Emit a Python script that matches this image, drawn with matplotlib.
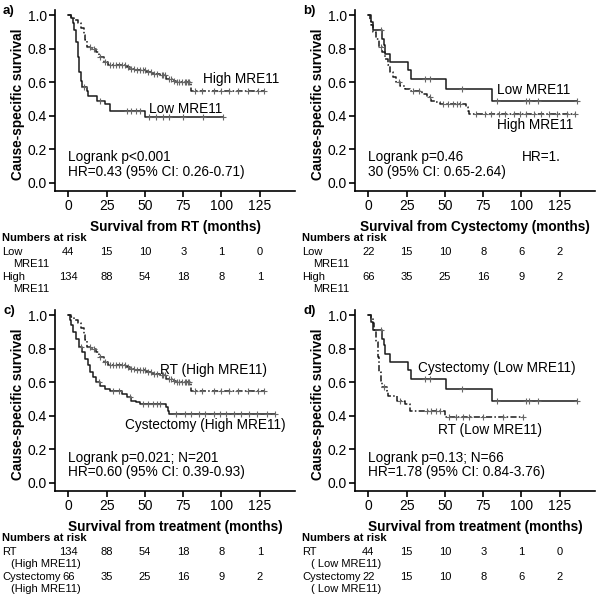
import numpy as np
import matplotlib
matplotlib.use("Agg")
import matplotlib.pyplot as plt
from matplotlib.transforms import blended_transform_factory

plt.rcParams['font.family'] = ['Liberation Sans', 'DejaVu Sans']

# ---- Kaplan-Meier step data ----
rt_high_t = [0, 2, 4, 6, 8, 10, 11, 12, 15, 18, 20, 23, 26, 38, 40, 44, 51, 55, 60, 64, 68, 70, 80, 128]
rt_high_s = [1.0, 0.99, 0.97, 0.95, 0.92, 0.88, 0.85, 0.81, 0.80, 0.78, 0.75, 0.72, 0.70, 0.69, 0.68, 0.67,
             0.66, 0.65, 0.64, 0.62, 0.61, 0.60, 0.55, 0.55]
rt_high_c = [14, 17, 21, 24, 27, 29, 31, 33, 35, 37, 39, 41, 43, 45, 47, 49, 50, 52, 54, 56, 58, 61, 62,
             63, 66, 67, 69, 71, 72, 74, 76, 77, 78, 79, 83, 87, 95, 100, 105, 111, 117, 124, 128]

rt_low_t = [0, 2, 3, 4, 5, 6, 7, 8, 9, 12, 13, 19, 24, 27, 50, 101]
rt_low_s = [1.0, 0.98, 0.95, 0.91, 0.84, 0.75, 0.66, 0.61, 0.57, 0.55, 0.52, 0.49, 0.47, 0.43, 0.39, 0.39]
rt_low_c = [10, 21, 38, 41, 44, 47, 53, 57, 62, 66, 75, 88, 101]

cys_low_t = [0, 2, 3, 9, 10, 11, 14, 26, 28, 51, 81, 136]
cys_low_s = [1.0, 0.96, 0.91, 0.86, 0.82, 0.77, 0.72, 0.67, 0.62, 0.56, 0.49, 0.49]
cys_low_c = [8, 37, 40, 61, 84, 103, 105, 111, 136]

cys_high_t = [0, 1, 2, 3, 5, 7, 9, 11, 13, 14, 16, 18, 21, 24, 27, 35, 38, 41, 44, 47, 64, 65, 66, 135]
cys_high_s = [1.0, 0.97, 0.94, 0.90, 0.86, 0.81, 0.78, 0.74, 0.70, 0.66, 0.63, 0.60, 0.58, 0.56, 0.55,
              0.53, 0.51, 0.49, 0.48, 0.47, 0.45, 0.43, 0.41, 0.41]
cys_high_c = [8, 20, 29, 33, 40, 49, 52, 55, 58, 60, 70, 76, 80, 85, 89, 95, 99, 103, 108, 113, 118, 123, 130, 135]

# ---- numbers at risk ----
risk_times = [0, 25, 50, 75, 100, 125]
risk_rt_high = [134, 88, 54, 18, 8, 1]
risk_rt_low = [44, 15, 10, 3, 1, 0]
risk_cys_high = [66, 35, 25, 16, 9, 2]
risk_cys_low = [22, 15, 10, 8, 6, 2]

xticks = [0, 25, 50, 75, 100, 125]
yticks = [0.0, 0.2, 0.4, 0.6, 0.8, 1.0]

CURVES = {
    'rt_high': (rt_high_t, rt_high_s, rt_high_c),
    'rt_low': (rt_low_t, rt_low_s, rt_low_c),
    'cys_low': (cys_low_t, cys_low_s, cys_low_c),
    'cys_high': (cys_high_t, cys_high_s, cys_high_c),
}

SOLID = '-'
DASHDOT = (0, (4, 1.5, 1, 1.5))
FS_TXT = 9.8
FS_TICK = 10
FS_LAB = 9.8
FS_RISK = 8

fig = plt.figure(figsize=(6, 6), dpi=100)
W, H = 600.0, 600.0


def axes_at(left_px, axis_px):
    return fig.add_axes([left_px / W, 1 - axis_px / H, 240 / W, 181 / H])


def draw_curve(ax, key, ls):
    t, s, c = CURVES[key]
    ax.step(t, s, where='post', color='#1a1a1a', lw=1.1, linestyle=ls)
    t_arr = np.array(t)
    s_arr = np.array(s)
    idx = np.searchsorted(t_arr, np.array(c), side='right') - 1
    ax.plot(c, s_arr[idx], linestyle='none', marker='+', ms=5, mew=0.8, color='#666666')


def setup(ax, xlabel):
    ax.set_xlim(-8.7, 148)
    ax.set_ylim(-0.048, 1.03)
    ax.set_xticks(xticks)
    ax.set_yticks(yticks)
    ax.set_yticklabels([f'{v:.1f}' for v in yticks])
    ax.spines['top'].set_visible(False)
    ax.spines['right'].set_visible(False)
    ax.spines['left'].set_linewidth(1.2)
    ax.spines['bottom'].set_linewidth(1.2)
    ax.tick_params(direction='out', length=4, width=1.2, labelsize=FS_TICK, pad=2)
    ax.set_ylabel('Cause-specific survival', fontsize=FS_LAB, fontweight='bold')
    ax.yaxis.set_label_coords(-0.125, 0.48)
    ax.set_xlabel(xlabel, fontsize=FS_LAB, fontweight='bold', labelpad=5)


def risk_table(ax, top_px, rows):
    tr = blended_transform_factory(ax.transData, fig.transFigure)
    x0 = ax.get_position().x0 - 53 / W
    fig.text(x0, 1 - top_px / H, 'Numbers at risk', fontsize=FS_RISK, fontweight='bold',
             va='center', ha='left')
    for i, (l1, l2, vals) in enumerate(rows):
        y1 = 1 - (top_px + 14 + 25 * i) / H
        y2 = 1 - (top_px + 26 + 25 * i) / H
        fig.text(x0, y1, l1, fontsize=FS_RISK, va='center', ha='left')
        fig.text(x0 + l2[1] / W, y2, l2[0], fontsize=FS_RISK, va='center', ha='left')
        for tx, v in zip(risk_times, vals):
            fig.text(tx, y1, str(v), fontsize=FS_RISK, va='center', ha='center', transform=tr)


# Panel a
axa = axes_at(55, 191)
draw_curve(axa, 'rt_high', DASHDOT)
draw_curve(axa, 'rt_low', SOLID)
setup(axa, 'Survival from RT (months)')
axa.text(88, 0.617, 'High MRE11', fontsize=FS_TXT, va='center')
axa.text(53, 0.439, 'Low MRE11', fontsize=FS_TXT, va='center')
axa.text(0, 0.155, 'Logrank p<0.001', fontsize=FS_TXT, va='center')
axa.text(0, 0.065, 'HR=0.43 (95% CI: 0.26-0.71)', fontsize=FS_TXT, va='center')
risk_table(axa, 238, [('Low', ('MRE11', 11), risk_rt_low), ('High', ('MRE11', 11), risk_rt_high)])

# Panel b
axb = axes_at(355, 191)
draw_curve(axb, 'cys_low', SOLID)
draw_curve(axb, 'cys_high', DASHDOT)
setup(axb, 'Survival from Cystectomy (months)')
axb.text(84, 0.552, 'Low MRE11', fontsize=FS_TXT, va='center')
axb.text(84, 0.343, 'High MRE11', fontsize=FS_TXT, va='center')
axb.text(0, 0.155, 'Logrank p=0.46', fontsize=FS_TXT, va='center')
axb.text(100.4, 0.155, 'HR=1.', fontsize=FS_TXT, va='center')
axb.text(0, 0.065, '30 (95% CI: 0.65-2.64)', fontsize=FS_TXT, va='center')
risk_table(axb, 238, [('Low', ('MRE11', 11), risk_cys_low), ('High', ('MRE11', 11), risk_cys_high)])

# Panel c
axc = axes_at(55, 491)
draw_curve(axc, 'rt_high', DASHDOT)
draw_curve(axc, 'cys_high', SOLID)
setup(axc, 'Survival from treatment (months)')
axc.text(59.6, 0.675, 'RT (High MRE11)', fontsize=FS_TXT, va='center')
axc.text(37.1, 0.345, 'Cystectomy (High MRE11)', fontsize=FS_TXT, va='center')
axc.text(0, 0.15, 'Logrank p=0.021; N=201', fontsize=FS_TXT, va='center')
axc.text(0, 0.065, 'HR=0.60 (95% CI: 0.39-0.93)', fontsize=FS_TXT, va='center')
risk_table(axc, 538, [('RT', ('(High MRE11)', 9), risk_rt_high),
                      ('Cystectomy', ('(High MRE11)', 9), risk_cys_high)])

# Panel d
axd = axes_at(355, 491)
draw_curve(axd, 'cys_low', SOLID)
draw_curve(axd, 'rt_low', DASHDOT)
setup(axd, 'Survival from treatment (months)')
axd.text(32.7, 0.685, 'Cystectomy (Low MRE11)', fontsize=FS_TXT, va='center')
axd.text(45.8, 0.315, 'RT (Low MRE11)', fontsize=FS_TXT, va='center')
axd.text(0, 0.15, 'Logrank p=0.13; N=66', fontsize=FS_TXT, va='center')
axd.text(0, 0.065, 'HR=1.78 (95% CI: 0.84-3.76)', fontsize=FS_TXT, va='center')
risk_table(axd, 538, [('RT', ('( Low MRE11)', 9), risk_rt_low),
                      ('Cystectomy', ('( Low MRE11)', 9), risk_cys_low)])

for lab, xp, yp in [('a)', 3, 11), ('b)', 303, 11), ('c)', 3, 311), ('d)', 303, 311)]:
    fig.text(xp / W, 1 - yp / H, lab, fontsize=9.5, fontweight='bold', va='center', ha='left')

fig.savefig('out.png', dpi=100)
